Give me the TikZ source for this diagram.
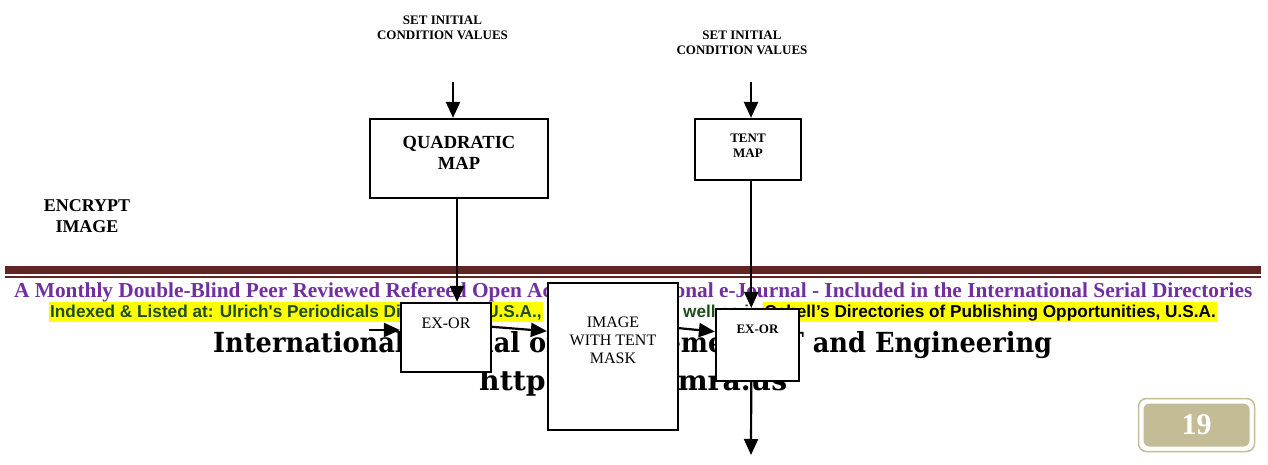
\documentclass[tikz,border=0pt]{standalone}
\usepackage{fontspec}
\setmainfont{Liberation Serif}
\newfontfamily\arialfont{Liberation Sans}
\newfontfamily\titlefont{DejaVu Serif}
\usetikzlibrary{arrows.meta,calc}
\definecolor{bandred}{HTML}{632523}
\definecolor{jpurple}{HTML}{7030A0}
\definecolor{jgreen}{HTML}{1E4D1E}
\definecolor{hiyellow}{HTML}{FFFF00}
\definecolor{pagetan}{HTML}{C4BC96}

\begin{document}
\begin{tikzpicture}[x=1pt,y=-1pt,
  blk/.style={draw=black, line width=2.2pt, fill=white, inner sep=0pt},
  flow/.style={line width=2.2pt, -{Triangle[length=16pt,width=14pt]}},
  lbl/.style={align=center, inner sep=0pt, font=\bfseries\fontsize{13}{15}\selectfont},
  plain/.style={align=center, inner sep=0pt, font=\fontsize{16}{18}\selectfont},
  foot/.style={anchor=base west, inner sep=0pt},
  idxline/.style={inner ysep=0pt, inner xsep=1pt, text height=15.5pt, text depth=4.5pt,
    font=\arialfont\bfseries\fontsize{17.2}{17.2}\selectfont},
]
\useasboundingbox (0,0) rectangle (1268,465);

% journal header band and running lines
\fill[bandred] (5,266) rectangle (1261,274);
\fill[bandred] (5,276) rectangle (1261,278);
\node[foot, text=jpurple] (tagline) at (14,297)
  {\resizebox{1238pt}{!}{\bfseries\fontsize{21}{21}\selectfont A Monthly Double-Blind Peer Reviewed Refereed Open Access International e-Journal - Included in the International Serial Directories}};
\node[idxline, anchor=base west, fill=hiyellow, text=jgreen] (idx) at (49,317.5)
  {Indexed \& Listed at: Ulrich\textquotesingle s Periodicals Directory ©, U.S.A.,};
\node[idxline, anchor=base west, text=jgreen] (well) at (682,317.5) {well as in};
\node[idxline, anchor=base east, fill=hiyellow, text=black] (cabell) at (1217,317.5)
  {Cabell’s Directories of Publishing Opportunities, U.S.A.};
\node[foot] (jtitle) at (213,352)
  {\resizebox{839pt}{21pt}{\titlefont\bfseries\fontsize{27}{27}\selectfont International Journal of Management, IT and Engineering}};
\node[foot] (url) at (479,390)
  {\resizebox{308pt}{21pt}{\titlefont\bfseries\fontsize{27}{27}\selectfont http://www.ijmra.us}};

% page number badge
\node[draw=pagetan, line width=1.5pt, rounded corners=8pt, minimum width=116pt,
  minimum height=53pt, inner sep=0pt] (pgframe) at (1196.5,425) {};
\node[fill=pagetan, rounded corners=6pt, minimum width=106pt, minimum height=43pt,
  inner sep=0pt, text=white, font=\bfseries\fontsize{30}{30}\selectfont] (pgno) at (1196.5,425) {19};

% labels
\node[lbl] (init1) at (442.5,27.5) {SET INITIAL\\CONDITION VALUES};
\node[lbl] (init2) at (742,42.5) {SET INITIAL\\CONDITION VALUES};
\node[lbl, font=\bfseries\fontsize{18}{21}\selectfont] (enc) at (87,216.5) {ENCRYPT\\IMAGE};

% blocks
\node[blk, minimum width=178pt, minimum height=79pt] (quad) at (459,158.5) {};
\node[lbl, font=\bfseries\fontsize{18.5}{21}\selectfont] (quadtxt) at (459,153) {QUADRATIC\\MAP};
\node[blk, minimum width=106pt, minimum height=61pt] (tent) at (748,149.5) {};
\node[lbl] (tenttxt) at (748,145.5) {TENT\\MAP};
\node[blk, minimum width=90pt, minimum height=69pt] (xor1) at (446,337.5) {};
\node[plain] (xor1txt) at (446,323) {EX-OR};
\node[blk, minimum width=130pt, minimum height=147pt] (img) at (613,356.5) {};
\node[plain] (imgtxt) at (613,340) {IMAGE\\WITH TENT\\MASK};
\node[blk, minimum width=83pt, minimum height=72pt] (xor2) at (757.5,345) {};
\node[lbl] (xor2txt) at (757.5,329) {EX-OR};

% connectors
\coordinate (src1) at (453,82);
\coordinate (src2) at (751,82);
\coordinate (feed) at (369,330);
\coordinate (sink) at (751,455);
\coordinate (qout) at ($(quad.south west)!0.489!(quad.south east)$);
\coordinate (tout) at ($(tent.south west)!0.53!(tent.south east)$);

\draw[flow] (src1) -- (src1 |- quad.north);
\draw[flow] (src2) -- (src2 |- tent.north);
\draw[flow] (qout) -- (qout |- xor1.north);
\draw[flow] (feed) -- (feed -| xor1.west);
\draw[flow] ($(xor1.north east)!0.35!(xor1.south east)$) -- ($(img.north west)!0.33!(img.south west)$);
\draw[flow] ($(img.north east)!0.31!(img.south east)$) -- ($(xor2.north west)!0.32!(xor2.south west)$);
\draw[flow] (tout) -- (tout |- xor2.north);
\draw[flow] (tout |- xor2.south) -- (sink);
\end{tikzpicture}
\end{document}
